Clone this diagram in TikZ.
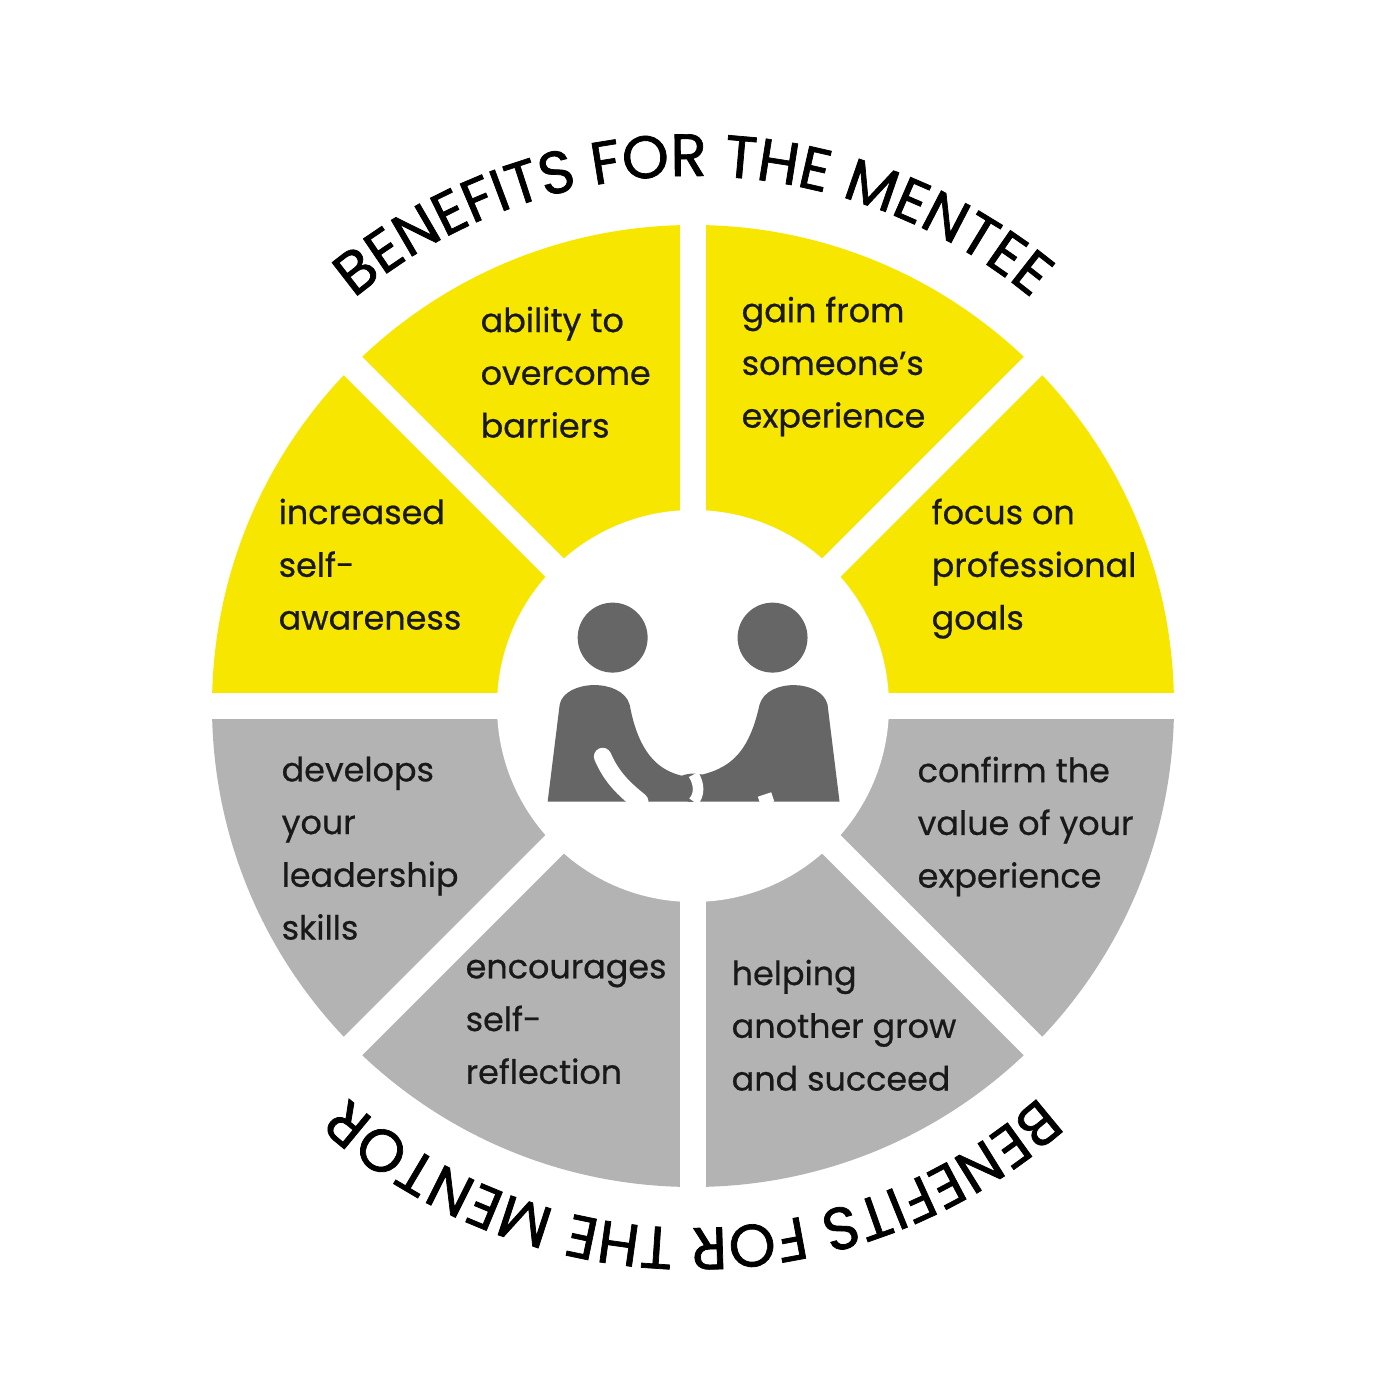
\documentclass[tikz,border=0pt]{standalone}
\usepackage{fontspec}
\setmainfont{Poppins}
\newfontfamily\labelfam[FakeBold=0.6]{Poppins}
\newfontfamily\titlefam[FakeBold=1.2]{Poppins}
\usetikzlibrary{decorations.text}
\definecolor{wheelyellow}{HTML}{F7E600}
\definecolor{wheelgray}{HTML}{B2B3B2}
\definecolor{icongray}{HTML}{666666}
\newcommand{\titlefont}{\titlefam\fontsize{17}{20}\selectfont}
\tikzset{
  label/.style={anchor=north west, align=left, inner sep=0pt, text=black!90,
    font=\labelfam\fontsize{9.5}{15}\selectfont},
  divider/.style={white, line width=0.26cm},
  arctext/.style={decorate, decoration={text along path, text align=center,
    text={|\titlefont|#1}}}
}
\begin{document}
\begin{tikzpicture}
  \useasboundingbox (0,0) rectangle (14,14);
  \coordinate (c) at (6.93,6.94);

  % wheel halves
  \fill[wheelyellow] (c) ++(0:4.81) arc[start angle=0, end angle=180, radius=4.81] -- cycle;
  \fill[wheelgray] (c) ++(180:4.81) arc[start angle=180, end angle=360, radius=4.81] -- cycle;
  \foreach \a in {0,45,...,315}
    \draw[divider] (c) -- ++(\a:5);
  \fill[white] (c) circle[radius=1.96];

  % curved titles
  \path[arctext={BENEFITS FOR THE MENTEE}] (c) ++(140:5.3) arc[start angle=140, end angle=40, radius=5.3];
  \path[arctext={BENEFITS FOR THE MENTOR}] (c) ++(-40:5.22) arc[start angle=-40, end angle=-140, radius=5.22];

  % segment labels
  \node[label] (ability) at (4.80,10.94) {ability to\\overcome\\barriers};
  \node[label] (gain) at (7.41,11.04) {gain from\\someone’s\\experience};
  \node[label] (aware) at (2.78,9.02) {increased\\self-\\awareness};
  \node[label] (goals) at (9.31,9.02) {focus on\\professional\\goals};
  \node[label] (lead) at (2.81,6.44) {develops\\your\\leadership\\skills};
  \node[label] (value) at (9.17,6.44) {confirm the\\value of your\\experience};
  \node[label] (reflect) at (4.65,4.41) {encourages\\self-\\reflection};
  \node[label] (grow) at (7.31,4.41) {helping\\another grow\\and succeed};

  % handshake icon
  \begin{scope}[shift={(0,14)}, x=0.01cm, y=-0.01cm]
    \fill[icongray] (613,638) circle[radius=35];
    \fill[icongray] (773,638) circle[radius=35];
    \fill[icongray] (548,802) -- (560,705) .. controls (565,680) and (622,678) .. (630,705)
      .. controls (640,760) and (665,778) .. (700,778) -- (700,802) -- cycle;
    \fill[icongray] (840,802) -- (828,705) .. controls (822,680) and (768,678) .. (760,705)
      .. controls (748,760) and (725,772) .. (688,778) -- (688,802) -- cycle;
    \fill[icongray] (694,788) ellipse[x radius=22, y radius=14];
    \draw[white, line width=5pt, line cap=round] (603,757) .. controls (612,778) and (625,790) .. (640,802);
    \draw[white, line width=3pt] (694,775) .. controls (700,785) and (700,795) .. (694,802);
    \draw[white, line width=4pt] (765,795) -- (768,804);
  \end{scope}
\end{tikzpicture}
\end{document}
